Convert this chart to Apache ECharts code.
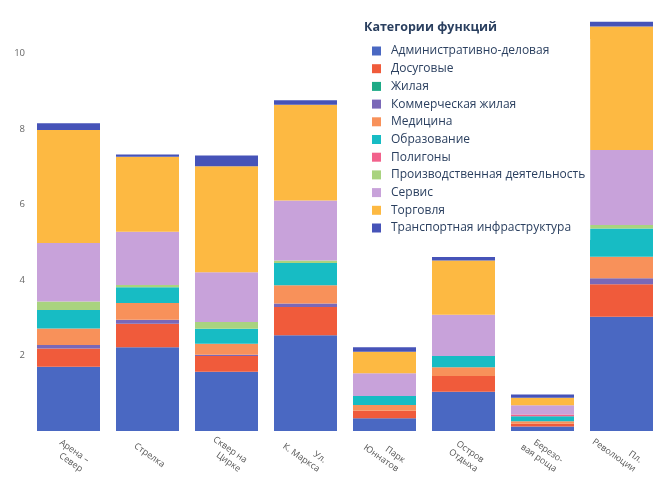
<!DOCTYPE html>
<html>
<head>
<meta charset="utf-8">
<script src="https://cdn.jsdelivr.net/npm/echarts@6/dist/echarts.min.js"></script>
<style>
html,body{margin:0;padding:0;background:#fff;}
#chart{width:667px;height:479px;}
</style>
</head>
<body>
<div id="chart"></div>
<script>
const categories = ['Арена –\nСевер','Стрелка','Сквер на\nЦирке','Ул.\nК. Маркса','Парк\nЮннатов','Остров\nОтдыха','Березо-\nвая роща','Пл.\nРеволюции'];
const seriesNames = ['Административно-деловая','Досуговые','Жилая','Коммерческая жилая','Медицина','Образование','Полигоны','Производственная деятельность','Сервис','Торговля','Транспортная инфраструктура'];
const admin      = [1.70, 2.22, 1.57, 2.54, 0.34, 1.04, 0.12, 3.03];
const leisure    = [0.49, 0.62, 0.42, 0.75, 0.20, 0.42, 0.07, 0.86];
const housing    = [0, 0, 0, 0, 0, 0, 0, 0];
const commercial = [0.09, 0.11, 0.03, 0.09, 0, 0, 0, 0.16];
const medicine   = [0.44, 0.44, 0.29, 0.48, 0.15, 0.23, 0.07, 0.57];
const education  = [0.49, 0.42, 0.40, 0.59, 0.24, 0.30, 0.13, 0.75];
const polygons   = [0, 0, 0, 0, 0, 0, 0.05, 0];
const production = [0.22, 0.06, 0.18, 0.07, 0, 0, 0, 0.09];
const service    = [1.55, 1.41, 1.32, 1.59, 0.60, 1.09, 0.24, 1.99];
const trade      = [3.00, 1.99, 2.81, 2.54, 0.57, 1.44, 0.20, 3.27];
const transport  = [0.18, 0.06, 0.28, 0.12, 0.12, 0.09, 0.09, 0.13];
const yTicks = [2, 4, 6, 8, 10];

const values = [admin, leisure, housing, commercial, medicine, education, polygons, production, service, trade, transport];
const colors = ['#4a68c2','#f05b3b','#1daa86','#7a68b8','#f8915a','#17bcc4','#f2628c','#a9d37f','#c8a2da','#fdb942','#4653b8'];

const chart = echarts.init(document.getElementById('chart'));
const series = seriesNames.map((n, i) => ({
  name: n,
  type: 'bar',
  stack: 'total',
  barWidth: 63,
  data: values[i],
  itemStyle: {color: colors[i]}
}));

chart.setOption({
  animation: false,
  backgroundColor: '#ffffff',
  textStyle: {fontFamily: 'Open Sans'},
  grid: {left: 29, right: 6, top: 16, bottom: 48, containLabel: false, outerBoundsMode: 'none'},
  graphic: [{
    type: 'text', left: 364, top: 21,
    style: {text: 'Категории функций', font: 'bold 12.5px "Open Sans"', fill: '#2a3f5f'}
  }],
  legend: {
    orient: 'vertical', left: 367, top: 39,
    itemWidth: 9, itemHeight: 9, itemGap: 3.7,
    icon: 'rect',
    data: seriesNames,
    textStyle: {fontSize: 12, color: '#2a3f5f', lineHeight: 14, padding: [0,0,0,5], fontFamily: 'Open Sans'},
    backgroundColor: 'rgba(255,255,255,0.7)'
  },
  xAxis: {
    type: 'category', data: categories,
    axisLine: {show: false}, axisTick: {show: false},
    axisLabel: {
      rotate: -35, interval: 0, margin: 23, width: 20, overflow: 'none',
      formatter: v => v.split('\n').map(s => '{r|' + s + '}').join('\n'),
      rich: {r: {align: 'right', fontSize: 9, color: '#555', lineHeight: 11, fontFamily: 'Open Sans'}}
    }
  },
  yAxis: {
    type: 'value', min: 0, max: 11, interval: 2,
    splitLine: {show: false}, axisLine: {show: false}, axisTick: {show: false},
    axisLabel: {
      fontSize: 9.5, color: '#666', margin: 4,
      showMinLabel: false, showMaxLabel: false,
      formatter: v => yTicks.includes(v) ? String(v) : ''
    }
  },
  series: series
});
</script>
</body>
</html>
